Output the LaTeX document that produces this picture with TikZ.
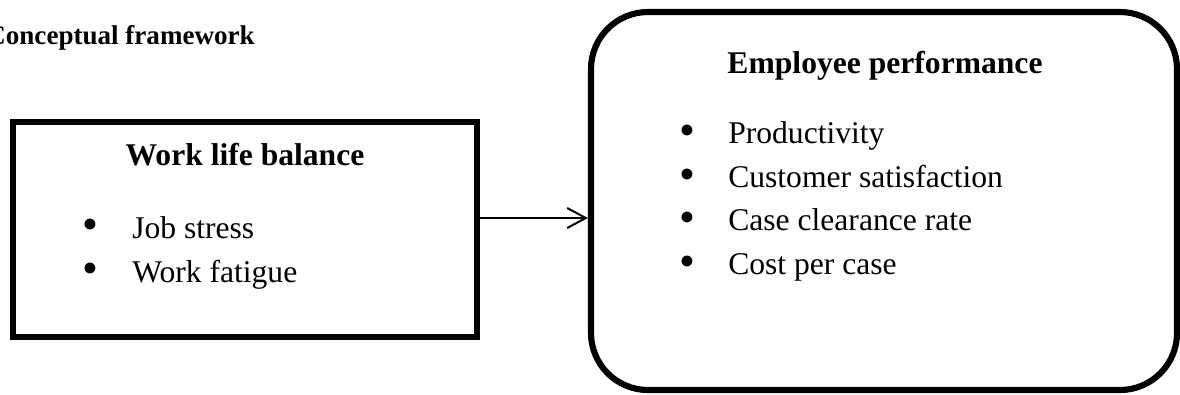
\documentclass[tikz,border=0pt]{standalone}
\usepackage{fontspec}
\setmainfont{Liberation Serif}
\usetikzlibrary{arrows.meta}
\tikzset{
  heading/.style={inner sep=0pt, anchor=base, font=\fontsize{23.7}{28}\selectfont\bfseries},
  itemtext/.style={inner sep=0pt, anchor=base west, font=\fontsize{23.7}{28}\selectfont},
  bulletmark/.style={inner sep=0pt, anchor=center, font=\fontsize{34}{40}\selectfont},
}
\begin{document}
\begin{tikzpicture}[x=0.75pt, y=-0.75pt]
  \useasboundingbox (0,0) rectangle (1180,394);

  % title
  \node[inner sep=0pt, anchor=base east, font=\fontsize{20.3}{24}\selectfont\bfseries]
    (title) at (255,44) {Conceptual framework};

  % independent variable
  \node[draw, line width=4.9pt, minimum width=348pt, minimum height=161.25pt, inner sep=0pt]
    (wlb) at (245,229.5) {};
  \node[heading] (wlbhead) at (245,165) {Work life balance};
  \node[bulletmark] (b1) at (90,229) {•};
  \node[itemtext]   (i1) at (132,238) {Job stress};
  \node[bulletmark] (b2) at (90,273) {•};
  \node[itemtext]   (i2) at (132,282) {Work fatigue};

  % dependent variable
  \node[draw, line width=4.6pt, rounded corners=42.75pt, minimum width=439.5pt,
        minimum height=283.5pt, inner sep=0pt]
    (ep) at (884,201) {};
  \node[heading] (ephead) at (885,73) {Employee performance};
  \node[bulletmark] (b3) at (687,135) {•};
  \node[itemtext]   (i3) at (728,143) {Productivity};
  \node[bulletmark] (b4) at (687,179) {•};
  \node[itemtext]   (i4) at (728,187) {Customer satisfaction};
  \node[bulletmark] (b5) at (687,222) {•};
  \node[itemtext]   (i5) at (728,230) {Case clearance rate};
  \node[bulletmark] (b6) at (687,266) {•};
  \node[itemtext]   (i6) at (728,274) {Cost per case};

  % relationship
  \coordinate (from) at (wlb.east |- 0,218);
  \coordinate (to) at (ep.west |- 0,218);
  \draw[line width=1.5pt, -{Straight Barb[length=14pt, width=15pt, line width=1.5pt]}]
    (from) -- (to);
\end{tikzpicture}
\end{document}
